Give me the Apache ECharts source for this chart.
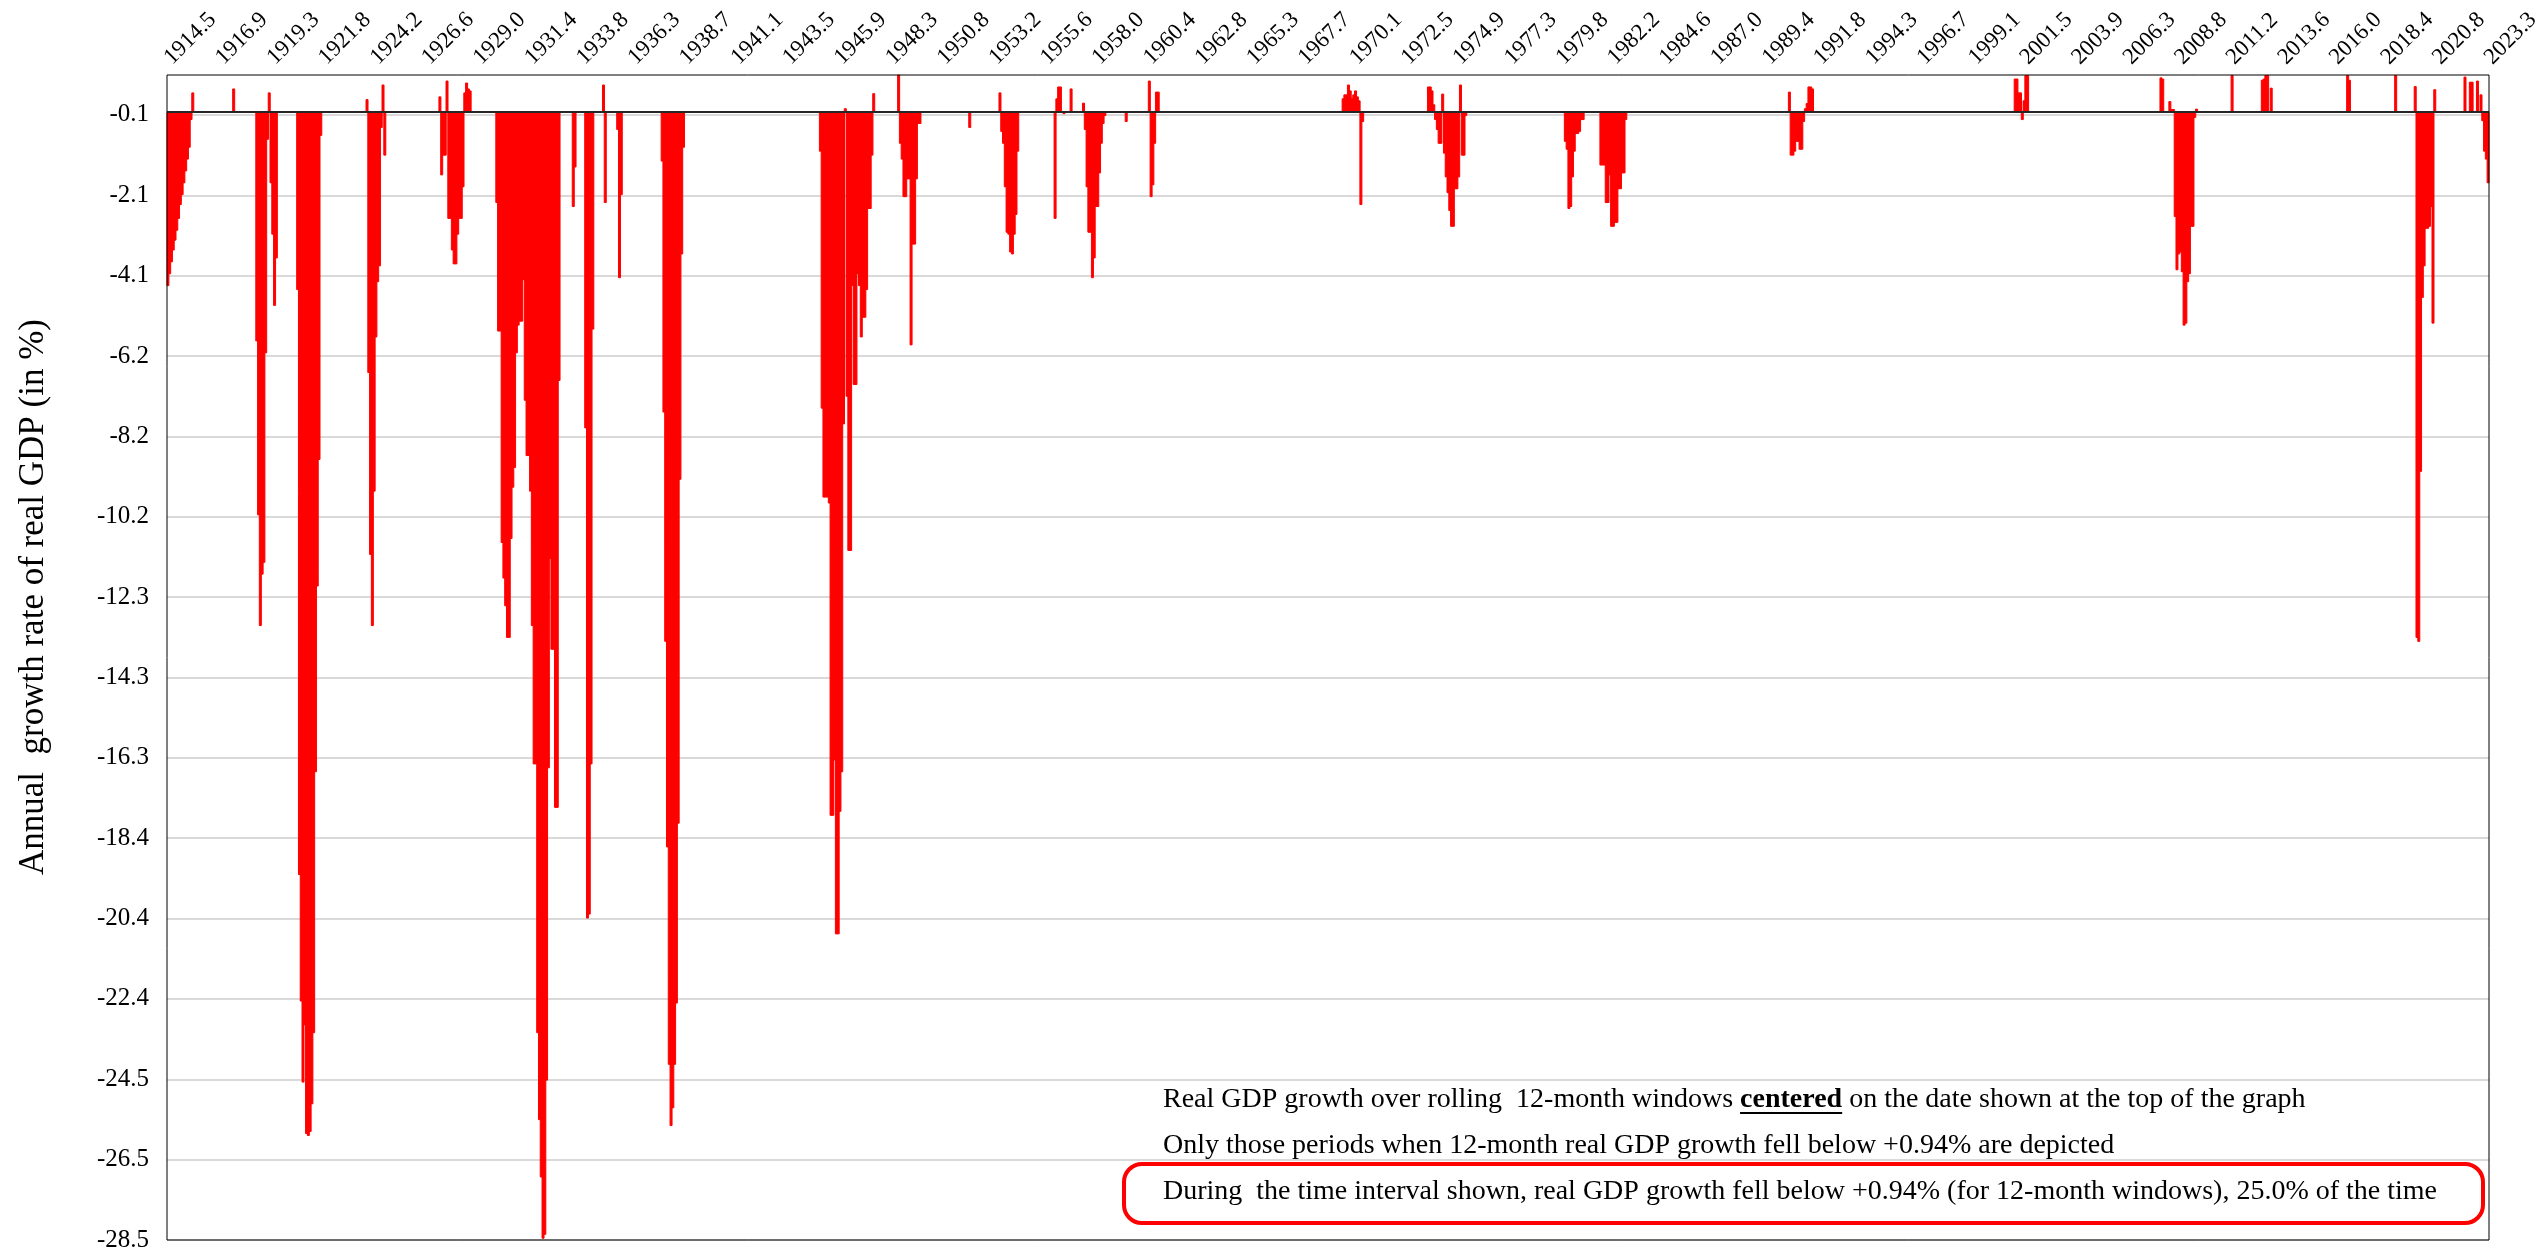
<!DOCTYPE html>
<html>
<head>
<meta charset="utf-8">
<script src="https://cdn.jsdelivr.net/npm/echarts@6/dist/echarts.min.js"></script>
<style>
html,body{margin:0;padding:0;background:#ffffff;}
#chart{width:2548px;height:1255px;}
</style>
</head>
<body>
<div id="chart"></div>
<script>
// ---- axis definitions ----
const startYear = 1914.5;        // first month shown (decimal year)
const monthCount = 1306;         // monthly observations
const labelEvery = 29;           // a date label every 29 months
const yMin = -28.532, yMax = 0.94, yStep = 2.033;
const yTickLabels = ['-28.5','-26.5','-24.5','-22.4','-20.4','-18.4','-16.3','-14.3','-12.3','-10.2','-8.2','-6.2','-4.1','-2.1','-0.1'];

// ---- 12-month centered real GDP growth (%), only months below +0.94% ----
// each episode: first month index (months after 1914.5) and its monthly values
const ep1914 = [-4.4,-4.1,-3.8,-3.5,-3.25,-3.0,-2.7,-2.35,-2.1,-1.8,-1.5,-1.2,-0.9,-0.2,0.5];
const ep1917 = [0.6];
const ep1918 = [-5.8,-10.2,-13.0,-11.7,-11.4,-6.1,-0.7,0.5,-1.8,-3.1,-4.9,-3.7];
const ep1920 = [-4.5,-19.3,-22.5,-24.55,-23.1,-25.85,-25.9,-25.8,-25.1,-23.3,-16.7,-12.0,-8.8,-0.6];
const ep1923 = [0.33,-6.6,-11.2,-13.0,-9.6,-5.7,-4.3,-3.9,-0.4,0.7,-1.1];
const ep1927 = [0.4,-1.6,-1.1,-1.1,0.8,-2.7,-2.7,-3.5,-3.85,-3.85,-3.1,-2.7,-2.7,-1.9,0.5,0.75,0.6,0.55];
const ep1930 = [-2.3,-5.55,-5.55,-10.9,-11.8,-12.5,-13.3,-13.3,-10.8,-9.5,-9.0,-6.1,-5.4,-5.3,-5.3,-4.25,-7.3,-8.7,-8.7,-9.6,-13.0,-16.5,-16.5,-23.3,-25.5,-26.95,-28.5,-28.4,-24.5,-16.6,-11.3,-13.6,-13.6,-17.6,-17.6,-6.8];
const ep1933 = [-2.4,-1.4];
const ep1934 = [-8.0,-20.4,-20.3,-16.5,-5.5];
const ep1935a = [0.7,-2.3];
const ep1935b = [-0.45,-4.2,-2.1];
const ep1937 = [-1.25,-7.6,-13.4,-18.6,-24.1,-25.65,-25.2,-24.1,-22.55,-18.0,-9.3,-3.6,-0.9];
const ep1945 = [-1.0,-7.5,-9.75,-9.75,-9.75,-9.9,-17.8,-17.8,-16.4,-20.8,-20.8,-17.7,-16.7,-7.9,0.1,-7.2,-11.1,-11.1,-4.4,-6.9,-6.9,-4.1,-4.4,-5.7,-5.2,-5.2,-4.5,-2.45,-2.45,-1.1,0.48];
const ep1948 = [0.95,-0.8,-1.2,-2.15,-2.15,-1.7,-1.7,-5.9,-3.35,-3.35,-1.7,-0.3,-0.3];
const ep1951 = [-0.4];
const ep1953 = [0.5,-0.5,-0.8,-1.9,-3.05,-3.1,-3.55,-3.6,-3.1,-2.6,-1.0];
const ep1956 = [-2.7,0.35,0.65,0.65,null,-0.05,null,null,null,0.6];
const ep1957 = [0.24,-0.45,-1.9,-3.05,-3.05,-4.2,-3.7,-2.4,-2.4,-1.55,-0.8,-0.3,-0.1];
const ep1959 = [-0.25];
const ep1960 = [0.8,-2.15,-1.85,-0.8,0.52,0.52];
const ep1969 = [0.35,0.45,0.45,0.7,0.55,0.35,0.45,0.55,0.4,0.3,-2.35,-0.25];
const ep1973 = [0.65,0.65,0.55,0.2,-0.2,-0.45,-0.8,-0.8,0.47,-1.05,-1.65,-2.05,-2.5,-2.9,-2.9,-1.95,-1.95,-1.65,0.7,-1.1,-1.1,-0.1];
const ep1980 = [-0.75,-0.95,-2.45,-2.4,-1.65,-1.0,-0.55,-0.55,-0.5,-0.2,-0.2];
const ep1982 = [-1.35,-1.35,-1.35,-2.3,-2.3,-1.6,-2.9,-2.9,-2.8,-2.8,-1.95,-1.95,-1.55,-1.55,-0.2];
const ep1990 = [0.52,-1.1,-1.1,-1.0,-0.75,-0.75,-0.95,-0.95,-0.25,0.1,0.23,0.65,0.65,0.6];
const ep2001 = [0.85,0.85,0.5,0.5,-0.2,0.3,0.94,0.94];
const ep2006 = [0.88,0.85];
const ep2008 = [0.28,0.08,0.08,-2.65,-4.0,-3.6,-3.55,-4.05,-5.4,-5.35,-4.3,-4.1,-2.9,-2.9,-0.15,0.09];
const ep2011 = [0.94];
const ep2012 = [0.82,0.85,0.94,0.94,null,0.62];
const ep2016 = [0.94,0.82];
const ep2018 = [0.94];
const ep2020 = [0.66,-13.3,-13.4,-9.1,-4.7,-3.9,-2.95,-2.95,-2.9,-2.4,-5.35,0.58];
const ep2022 = [0.9,null,null,0.77,0.77,null,null,0.8,null,0.45,-0.23,-1.0,-1.2,-1.8];

const episodes = [
  [0, ep1914], [37, ep1917], [50, ep1918], [73, ep1920], [112, ep1923], [153, ep1927],
  [185, ep1930], [228, ep1933], [235, ep1934], [245, ep1935a], [253, ep1935b], [278, ep1937],
  [367, ep1945], [411, ep1948], [451, ep1951], [468, ep1953], [499, ep1956], [515, ep1957],
  [539, ep1959], [552, ep1960], [661, ep1969], [709, ep1973], [786, ep1980], [806, ep1982],
  [912, ep1990], [1039, ep2001], [1121, ep2006], [1126, ep2008], [1161, ep2011], [1178, ep2012],
  [1226, ep2016], [1253, ep2018], [1264, ep2020], [1292, ep2022]
];

const noteLine1a = 'Real GDP growth over rolling  12-month windows ';
const noteLine1b = 'centered';
const noteLine1c = ' on the date shown at the top of the graph';
const noteLine2 = 'Only those periods when 12-month real GDP growth fell below +0.94% are depicted';
const noteLine3 = 'During  the time interval shown, real GDP growth fell below +0.94% (for 12-month windows), 25.0% of the time';
const yTitle = 'Annual  growth rate of real GDP (in %)';

// ---- build chart data ----
const categories = [];
for (let k = 0; k < monthCount; k++) categories.push((startYear + k / 12).toFixed(1));
const values = new Array(monthCount).fill(null);
episodes.forEach(([s, arr]) => arr.forEach((v, i) => { values[s + i] = v; }));

const FONT = '"Liberation Serif", "Times New Roman", serif';
const gridL = 167, gridT = 75, gridR = 2489, gridB = 1240;

const noteFont = 28;
const ctx = document.createElement('canvas').getContext('2d');
ctx.font = noteFont + 'px ' + FONT;
const wA = ctx.measureText(noteLine1a).width;
ctx.font = 'bold ' + noteFont + 'px ' + FONT;
const wB = ctx.measureText(noteLine1b).width;
const noteX = 1163, noteY1 = 1100, noteY2 = 1146, noteY3 = 1192;

function txt(text, x, y, extra, more) {
  return Object.assign({
    type: 'text', x: x, y: y, z: 110,
    style: Object.assign({
      text: text, fill: '#000', fontSize: noteFont, fontFamily: FONT,
      textAlign: 'left', textVerticalAlign: 'middle', align: 'left', verticalAlign: 'middle'
    }, extra || {})
  }, more || {});
}

const chart = echarts.init(document.getElementById('chart'), null, {renderer: 'canvas'});
chart.setOption({
  animation: false,
  backgroundColor: '#ffffff',
  grid: {left: gridL, top: gridT, right: 2548 - gridR, bottom: 1255 - gridB, containLabel: false},
  xAxis: {
    type: 'category', position: 'top', data: categories, boundaryGap: true,
    axisLine: {show: false}, axisTick: {show: false}, splitLine: {show: false},
    axisLabel: {interval: labelEvery - 1, rotate: 45, margin: 14, color: '#000',
      fontFamily: FONT, fontSize: 23}
  },
  yAxis: {
    type: 'value', min: yMin, max: yMax, interval: yStep,
    axisLine: {show: false}, axisTick: {show: false},
    axisLabel: {
      color: '#000', fontFamily: FONT, fontSize: 25, margin: 18, showMaxLabel: false,
      formatter: function (v) {
        const i = Math.round((v - yMin) / yStep);
        if (Math.abs(v - (yMin + i * yStep)) > 1e-6) return '';
        return yTickLabels[i] || '';
      }
    },
    splitLine: {show: true, showMaxLine: false, lineStyle: {color: '#d9d9d9', width: 2}}
  },
  series: [{
    type: 'bar', data: values, barWidth: 3, barGap: '0%',
    itemStyle: {color: '#ff0000', borderColor: '#ff0000', borderWidth: 1},
    markLine: {
      silent: true, symbol: ['none', 'none'], label: {show: false},
      lineStyle: {color: '#262626', width: 2, type: 'solid'},
      data: [{yAxis: 0}]
    }
  }],
  graphic: [
    {type: 'rect', z: 100, shape: {x: gridL, y: gridT, width: gridR - gridL, height: gridB - gridT},
      style: {fill: 'none', stroke: '#000', lineWidth: 1}},
    txt(yTitle, 34, 597, {fontSize: 35, textAlign: 'center', align: 'center'}, {rotation: Math.PI / 2}),
    txt(noteLine1a, noteX, noteY1),
    txt(noteLine1b, noteX + wA, noteY1, {fontWeight: 'bold'}),
    {type: 'line', z: 110, shape: {x1: noteX + wA, y1: noteY1 + 13, x2: noteX + wA + wB, y2: noteY1 + 13},
      style: {stroke: '#000', lineWidth: 2}},
    txt(noteLine1c, noteX + wA + wB, noteY1),
    txt(noteLine2, noteX, noteY2),
    txt(noteLine3, noteX, noteY3),
    {type: 'rect', z: 105, shape: {x: 1124, y: 1164, width: 1359, height: 59, r: 18},
      style: {fill: 'none', stroke: '#ff0000', lineWidth: 4}}
  ]
});
</script>
</body>
</html>
